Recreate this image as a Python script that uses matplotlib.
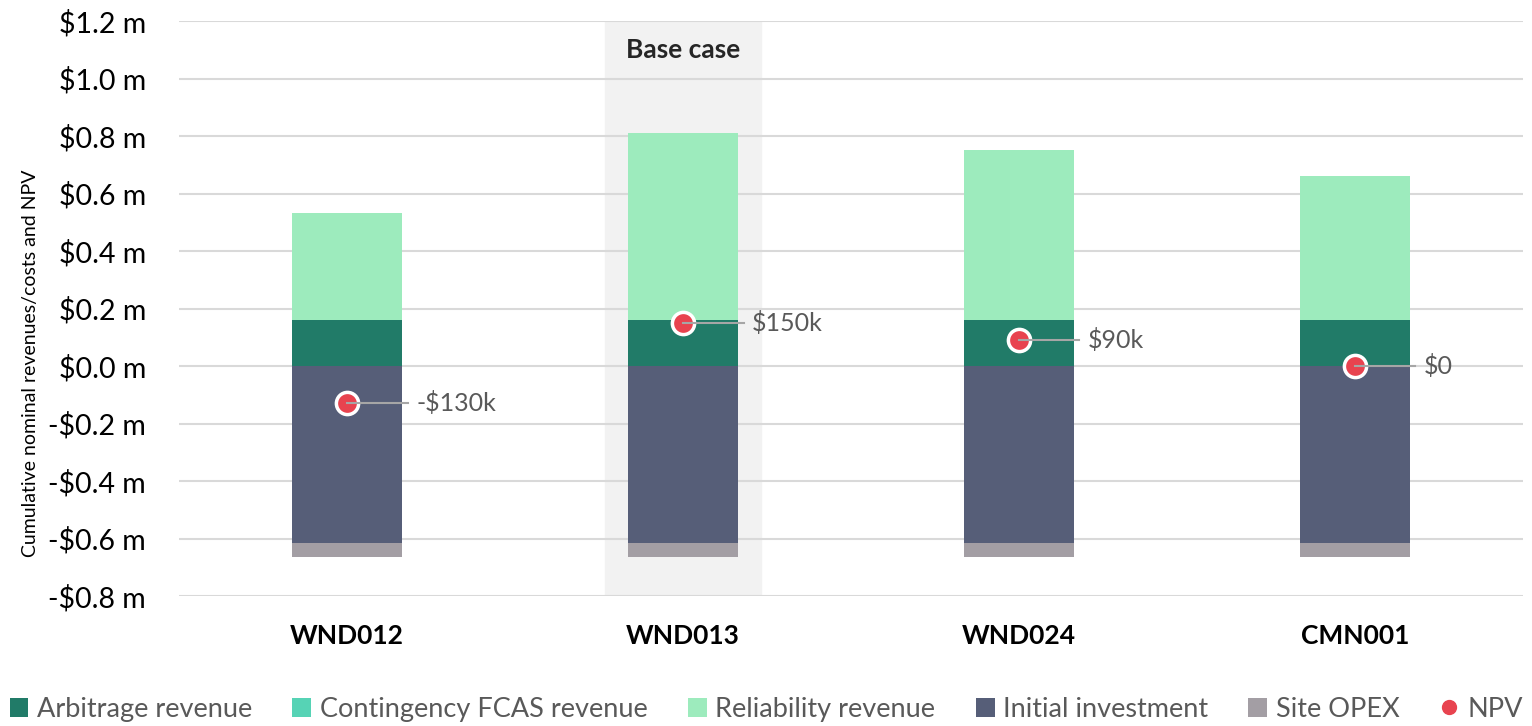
import numpy as np
import matplotlib.pyplot as plt
from matplotlib.patches import Patch
from matplotlib.lines import Line2D

plt.rcParams['font.family'] = ['Lato', 'DejaVu Sans']

# datos (millones de $)
proyectos = ['WND012', 'WND013', 'WND024', 'CMN001']
arbitraje = [0.16, 0.16, 0.16, 0.16]
fcas_contingencia = [0.0, 0.0, 0.0, 0.0]
confiabilidad = [0.373, 0.65, 0.591, 0.501]
inversion_inicial = [-0.615, -0.615, -0.615, -0.615]
opex_sitio = [-0.048, -0.048, -0.048, -0.048]
vpn = [-0.13, 0.15, 0.09, 0.0]
etiquetas_vpn = ['-$130k', '$150k', '$90k', '$0']
caso_base = 1

colores = {
    'Arbitrage revenue': '#217B68',
    'Contingency FCAS revenue': '#56D3B5',
    'Reliability revenue': '#9DEBBD',
    'Initial investment': '#565E78',
    'Site OPEX': '#A39EA4',
}
rojo = '#E8434F'
gris_texto = '#595959'

fig = plt.figure(figsize=(15.32, 7.26), dpi=100)
ax = fig.add_axes([0.117, 0.179, 0.877, 0.792])

x = np.arange(len(proyectos))
ancho = 0.327

# sombreado del caso base
ax.axvspan(caso_base - 0.232, caso_base + 0.232, color='#F2F2F2', zorder=0)
ax.text(caso_base, 1.1, 'Base case', ha='center', va='center',
        fontsize=19, fontweight='bold', color='#262626')

# barras positivas
base = np.zeros(len(x))
for nombre, valores in [('Arbitrage revenue', arbitraje),
                        ('Contingency FCAS revenue', fcas_contingencia),
                        ('Reliability revenue', confiabilidad)]:
    ax.bar(x, valores, ancho, bottom=base, color=colores[nombre], zorder=2)
    base = base + np.array(valores)

# barras negativas
base = np.zeros(len(x))
for nombre, valores in [('Initial investment', inversion_inicial),
                        ('Site OPEX', opex_sitio)]:
    ax.bar(x, valores, ancho, bottom=base, color=colores[nombre], zorder=2)
    base = base + np.array(valores)

# NPV con linea guia y etiqueta
for xi, v, txt in zip(x, vpn, etiquetas_vpn):
    ax.plot(xi, v, 'o', color=rojo, markersize=16, markeredgecolor='white',
            markeredgewidth=2.5, zorder=4)
    ax.plot([xi, xi + 0.18], [v, v], color='#A6A6A6', lw=1.5, zorder=5)
    ax.text(xi + 0.205, v, txt, ha='left', va='center', fontsize=18,
            color=gris_texto, zorder=5)

ax.set_xlim(-0.5, 3.5)
ax.set_ylim(-0.8, 1.2)
ticks = np.arange(-0.8, 1.21, 0.2)
ax.set_yticks(ticks)
ax.set_yticklabels([('-$%.1f m' % abs(t)) if t < -1e-9 else ('$%.1f m' % abs(t)) for t in ticks],
                   fontsize=20.5, color='black')
ax.set_xticks(x)
ax.set_xticklabels(proyectos, fontsize=19, fontweight='bold', color='black')
ax.tick_params(axis='both', length=0)
ax.tick_params(axis='x', pad=20)
ax.tick_params(axis='y', pad=24)
ax.grid(axis='y', color='#D9D9D9', lw=1.5, zorder=1)
ax.set_axisbelow(True)
for s in ax.spines.values():
    s.set_visible(False)

fig.text(0.02, 0.5, 'Cumulative nominal revenues/costs and NPV', rotation=90,
         ha='center', va='center', fontsize=14, color='black')

# leyenda
manijas = [Patch(facecolor=c, label=n) for n, c in colores.items()]
manijas.append(Line2D([], [], marker='o', color=rojo, lw=0, markersize=10, label='NPV'))
fig.legend(handles=manijas, loc='center', bbox_to_anchor=(0.5, 0.023), ncol=6,
           frameon=False, fontsize=19.5, labelcolor=gris_texto, handlelength=0.7,
           handleheight=0.7, handletextpad=0.3, columnspacing=1.5)

fig.savefig('out.png', dpi=100)
